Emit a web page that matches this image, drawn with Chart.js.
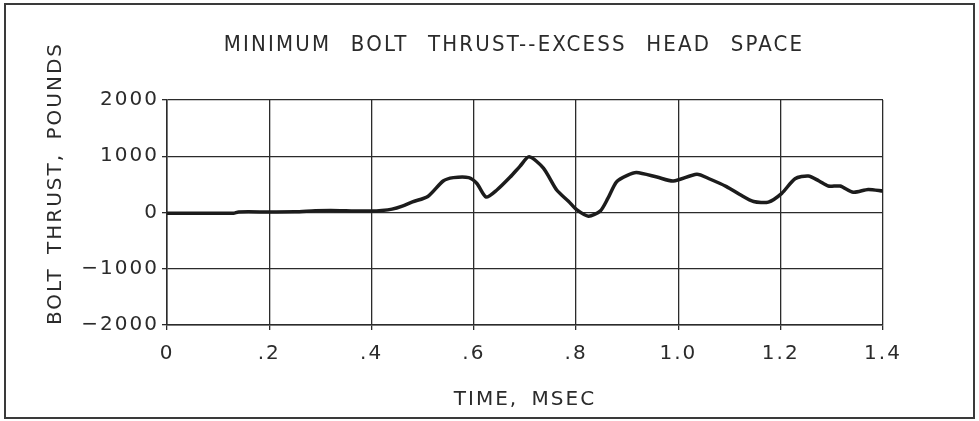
<!DOCTYPE html>
<html>
<head>
<meta charset="utf-8">
<title>Minimum bolt thrust</title>
<script src="https://cdn.jsdelivr.net/npm/chart.js@4/dist/chart.umd.min.js"></script>
<style>
  html, body { margin: 0; padding: 0; background: #fff; }
  #wrap { width: 979px; height: 421px; position: relative; }
</style>
</head>
<body>
<div id="wrap"><canvas id="myChart"></canvas></div>
<script>
// time in msec, bolt thrust in pounds
const timeMs = [0, 0.05, 0.10, 0.13, 0.14, 0.20, 0.25, 0.29, 0.32, 0.35, 0.40, 0.42, 0.44, 0.46, 0.48, 0.51,
  0.54, 0.56, 0.59, 0.606, 0.624, 0.645, 0.671, 0.69, 0.708, 0.736, 0.762, 0.785, 0.801, 0.824, 0.847,
  0.862, 0.879, 0.90, 0.918, 0.958, 0.99, 1.036, 1.06, 1.094, 1.12, 1.147, 1.176, 1.202, 1.228, 1.254,
  1.275, 1.293, 1.316, 1.342, 1.371, 1.40];
const thrust = [-15, -15, -15, -12, 10, 10, 12, 30, 35, 30, 25, 35, 60, 115, 190, 285,
  560, 620, 620, 515, 275, 400, 630, 820, 990, 790, 400, 200, 50, -65, 25,
  250, 545, 660, 710, 630, 560, 680, 600, 460, 320, 195, 185, 340, 600, 650,
  560, 470, 470, 360, 410, 380];

const xTickLabels = ["0", ".2", ".4", ".6", ".8", "1.0", "1.2", "1.4"];
const yTickLabels = ["\u22122000", "\u22121000", "0", "1000", "2000"];
const chartTitle = "MINIMUM BOLT THRUST--EXCESS HEAD SPACE";

const FONT = '"DejaVu Sans", sans-serif';
const TITLE_FONT = '"DejaVu Sans Condensed", "DejaVu Sans", sans-serif';
const INK = "#2b2b2b";

document.addEventListener("DOMContentLoaded", () => {
  const points = timeMs.map((t, i) => ({ x: t, y: thrust[i] }));

  // plotter lettering is wide, so open the letters up a little
  const spacing = (ctx) => {
    ctx.letterSpacing = "2px";
    ctx.wordSpacing = "5px";
  };

  // white page, outer frame and the heading
  const pagePlugin = {
    id: "page",
    beforeLayout(chart) {
      spacing(chart.ctx);
    },
    beforeDraw(chart) {
      const { ctx, width, height } = chart;
      spacing(ctx);
      ctx.save();
      ctx.fillStyle = "#fff";
      ctx.fillRect(0, 0, width, height);
      ctx.strokeStyle = "#3a3a3a";
      ctx.lineWidth = 2;
      ctx.strokeRect(5, 4, width - 10, height - 7);
      ctx.restore();
    },
    afterDraw(chart) {
      const { ctx, chartArea } = chart;
      ctx.save();
      ctx.letterSpacing = "2.2px";
      ctx.wordSpacing = "11px";
      ctx.font = `22px ${TITLE_FONT}`;
      ctx.fillStyle = INK;
      ctx.textAlign = "center";
      ctx.textBaseline = "alphabetic";
      ctx.fillText(chartTitle, (chartArea.left + chartArea.right) / 2 - 11, chartArea.top - 49);
      ctx.restore();
    },
  };

  const config = {
    type: "line",
    data: {
      datasets: [
        {
          label: "Bolt thrust",
          data: points,
          borderColor: "#1c1c1c",
          borderWidth: 3.5,
          pointRadius: 0,
          tension: 0.25,
          fill: false,
        },
      ],
    },
    options: {
      responsive: true,
      maintainAspectRatio: false,
      animation: false,
      layout: { padding: { left: 0, right: 96, top: 100, bottom: 0 } },
      plugins: {
        legend: { display: false },
        tooltip: { enabled: false },
        title: { display: false },
      },
      scales: {
        x: {
          type: "linear",
          min: 0,
          max: 1.4,
          afterFit: (scale) => { scale.height = 96; },
          afterBuildTicks: (scale) => {
            scale.ticks = xTickLabels.map((_, i) => ({ value: i * 0.2 }));
          },
          ticks: {
            color: INK,
            font: { family: FONT, size: 20 },
            padding: 12,
            maxRotation: 0,
            autoSkip: false,
            callback: (value, index) => xTickLabels[index],
          },
          grid: { color: INK, lineWidth: 1.3, tickLength: 5 },
          border: { color: INK, width: 1.5 },
          title: {
            display: true,
            text: "TIME, MSEC",
            color: INK,
            font: { family: FONT, size: 20 },
            padding: { top: 0, bottom: 9 },
          },
        },
        y: {
          min: -2000,
          max: 2000,
          afterFit: (scale) => { scale.width = 167; },
          afterBuildTicks: (scale) => {
            scale.ticks = yTickLabels.map((_, i) => ({ value: -2000 + i * 1000 }));
          },
          ticks: {
            color: INK,
            font: { family: FONT, size: 20 },
            padding: 3,
            autoSkip: false,
            callback: (value, index) => yTickLabels[index],
          },
          grid: { color: INK, lineWidth: 1.3, tickLength: 5 },
          border: { color: INK, width: 1.5 },
          title: {
            display: true,
            text: "BOLT THRUST, POUNDS",
            align: "start",
            color: INK,
            font: { family: FONT, size: 20 },
            padding: { top: 44, bottom: 0 },
          },
        },
      },
    },
    plugins: [pagePlugin],
  };

  new Chart(document.getElementById("myChart"), config);
});
</script>
</body>
</html>
